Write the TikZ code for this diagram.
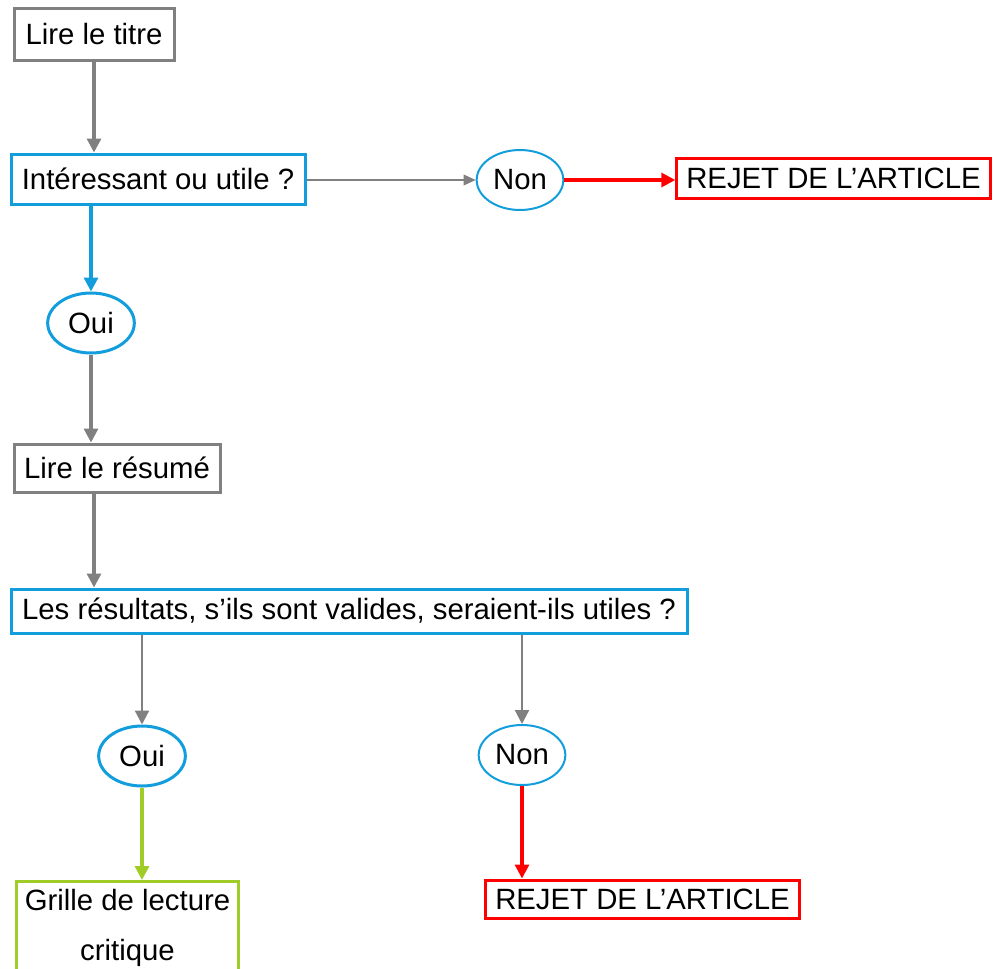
\documentclass[tikz,border=0pt]{standalone}
\usepackage{fontspec}
\setmainfont{Liberation Sans}
\usetikzlibrary{arrows.meta, shapes.geometric}
\definecolor{ardoise}{RGB}{128,128,128}
\definecolor{azur}{RGB}{18,157,220}
\definecolor{vermillon}{RGB}{255,0,0}
\definecolor{anis}{RGB}{160,204,40}
\tikzset{
    boite/.style={draw, rectangle, line width=2.25pt, inner sep=0pt,
        font=\fontsize{22}{26}\selectfont},
    bulle/.style={draw=azur, ellipse, inner sep=0pt, minimum width=65pt,
        minimum height=45pt, font=\fontsize{22}{26}\selectfont},
    fleche/.style={-{Triangle[length=10.5pt,width=10.5pt]}, line width=2.4pt},
    flechefine/.style={-{Triangle[length=9pt,width=8pt]}, line width=1.1pt, draw=ardoise},
}

\begin{document}
\begin{tikzpicture}[x=0.75pt, y=-0.75pt]
\useasboundingbox (0,0) rectangle (995,968);

\node[boite, draw=ardoise, minimum width=120pt, minimum height=39pt] (titre) at (94,34) {Lire le titre};
\node[boite, draw=azur, minimum width=220.5pt, minimum height=37.5pt] (interet) at (158,179) {Intéressant ou utile ?};
\node[bulle, line width=1.5pt] (non1) at (520,180) {Non};
\node[boite, draw=vermillon, minimum width=235pt, minimum height=30pt] (rejet1) at (833.5,178) {REJET DE L’ARTICLE};

\node[bulle, line width=2.25pt] (oui1) at (91,323) {Oui};
\node[boite, draw=ardoise, minimum width=154.5pt, minimum height=36pt] (resume) at (117,468) {Lire le résumé};
\node[boite, draw=azur, minimum width=507pt, minimum height=33pt] (resultats) at (349,611) {Les résultats, s’ils sont valides, seraient-ils utiles ?};

\node[bulle, line width=2.25pt] (oui2) at (142,756) {Oui};
\node[bulle, line width=1.5pt] (non2) at (522,755) {Non};

\node[boite, draw=anis, anchor=north, minimum width=167pt, inner ysep=6pt, align=center,
    font=\fontsize{22}{37.5}\selectfont] (grille) at (127.5,880) {Grille de lecture\\critique};
\node[boite, draw=vermillon, minimum width=236pt, minimum height=28.5pt] (rejet2) at (642.5,899) {REJET DE L’ARTICLE};

\draw[fleche, ardoise] (titre.south) -- (titre.south |- interet.north);
\draw[flechefine] (non1.west -| interet.east) -- (non1.west);
\draw[fleche, vermillon] (non1.east) -- (non1.east -| rejet1.west);
\draw[fleche, azur] (oui1 |- interet.south) -- (oui1.north);
\draw[fleche, ardoise] (oui1.south) -- (oui1.south |- resume.north);
\draw[fleche, ardoise] (titre |- resume.south) -- (titre |- resultats.north);
\draw[fleche, ardoise, line width=1.6pt] (oui2 |- resultats.south) -- (oui2.north);
\draw[fleche, ardoise, line width=1.6pt] (non2 |- resultats.south) -- (non2.north);
\draw[fleche, anis] (oui2.south) -- (oui2.south |- grille.north);
\draw[fleche, vermillon] (non2.south) -- (non2.south |- rejet2.north);

\end{tikzpicture}
\end{document}
